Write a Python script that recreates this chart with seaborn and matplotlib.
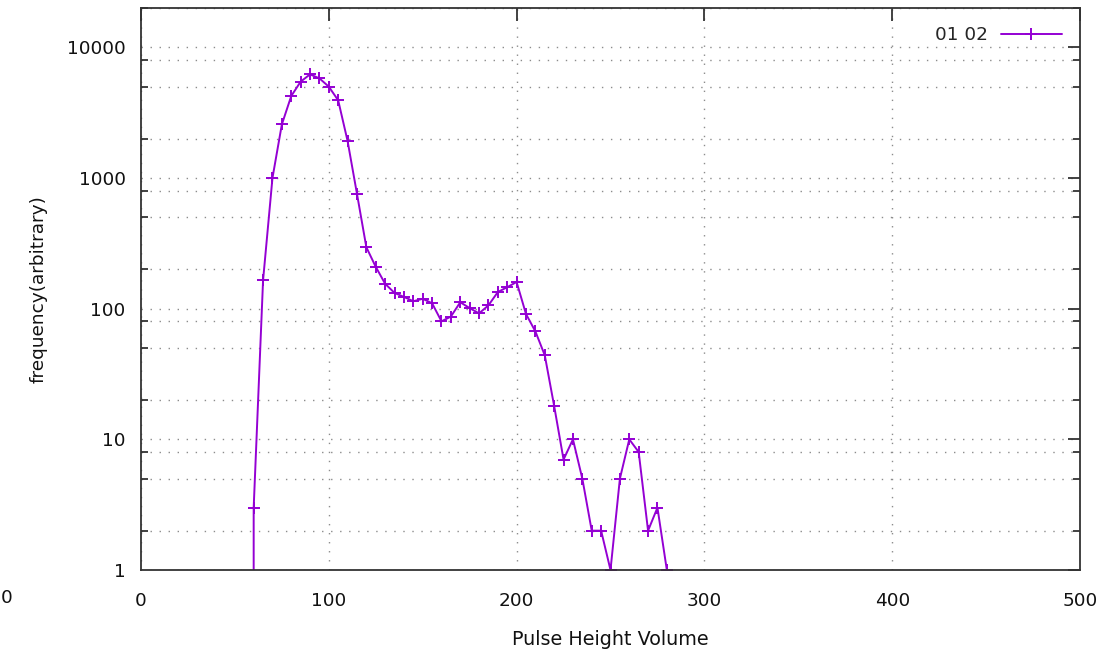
import matplotlib
matplotlib.use("Agg")
import matplotlib.pyplot as plt
import matplotlib.ticker as mticker
import pandas as pd
import seaborn as sns

# Pulse height spectrum (counts per 5-unit bin)
pulse_height = [55, 60, 65, 70, 75, 80, 85, 90, 95, 100,
                105, 110, 115, 120, 125, 130, 135, 140, 145, 150,
                155, 160, 165, 170, 175, 180, 185, 190, 195, 200,
                205, 210, 215, 220, 225, 230, 235, 240, 245, 250,
                255, 260, 265, 270, 275, 280]
frequency = [0, 3, 165, 1000, 2570, 4240, 5460, 6210, 5790, 5000,
             3930, 1920, 757, 295, 209, 155, 132, 123, 114, 119,
             110, 80, 87, 112, 101, 92, 106, 134, 146, 160,
             91, 67, 44, 18, 7, 10, 5, 2, 2, 1,
             5, 10, 8, 2, 3, 1]
series_label = "01 02"

x_ticks = [0, 100, 200, 300, 400, 500]
y_ticks = [1, 10, 100, 1000, 10000]

df = pd.DataFrame({"x": pulse_height, "y": frequency})

sns.set_theme(style="white")
plt.rcParams["font.family"] = ["DejaVu Sans"]

W, H, DPI = 1115, 652, 100
fig = plt.figure(figsize=(W / DPI, H / DPI), dpi=DPI)
ax = fig.add_axes([141 / W, 1 - 570 / H, (1080 - 141) / W, (570 - 8) / H])

line_color = "#9400d3"
sns.lineplot(data=df, x="x", y="y", ax=ax, color=line_color, linewidth=1.4,
             marker="+", markersize=8, markeredgewidth=1.4,
             markeredgecolor=line_color, label=series_label, sort=True)

ax.set_yscale("log")
ax.set_xlim(0, 500)
ax.set_ylim(1, 20000)

ax.xaxis.set_major_locator(mticker.FixedLocator(x_ticks))
ax.xaxis.set_major_formatter(mticker.FixedFormatter([str(v) for v in x_ticks]))
ax.yaxis.set_major_locator(mticker.FixedLocator(y_ticks))
ax.yaxis.set_major_formatter(mticker.FixedFormatter([str(v) for v in y_ticks]))
ax.yaxis.set_minor_locator(mticker.LogLocator(base=10, subs=(2, 5, 8)))
ax.yaxis.set_minor_formatter(mticker.NullFormatter())
ax.xaxis.set_minor_locator(mticker.NullLocator())

tick_fs = 13.3
ax.tick_params(axis="both", which="major", direction="in", length=9, width=1.3,
               color="#333333", labelsize=tick_fs, labelcolor="#111111",
               top=True, right=True)
ax.tick_params(axis="x", which="major", pad=16)
ax.tick_params(axis="y", which="major", pad=11)
ax.tick_params(axis="y", which="minor", direction="in", length=5, width=1.3,
               color="#333333", left=True, right=True)

grid_kw = dict(color="#8c8c8c", linewidth=1.0, linestyle=(0, (1, 5.5)))
ax.grid(True, which="major", axis="both", **grid_kw)
ax.grid(True, which="minor", axis="y", **grid_kw)
ax.set_axisbelow(True)

for side in ("left", "right", "top", "bottom"):
    ax.spines[side].set_visible(True)
    ax.spines[side].set_color("#333333")
    ax.spines[side].set_linewidth(1.3)

ax.set_xlabel("Pulse Height Volume", fontsize=13.8, color="#111111", labelpad=14)
ax.set_ylabel("frequency(arbitrary)", fontsize=13.3, color="#111111", labelpad=14)

leg = ax.legend(loc="upper right", frameon=False, markerfirst=False,
                handlelength=3.3, handletextpad=0.7, fontsize=tick_fs,
                borderaxespad=0.6)

# Left-most tick label at the figure edge
fig.text(0.5 / W, 1 - 598 / H, "0", ha="left", va="center",
         fontsize=tick_fs, color="#111111")

fig.savefig("out.png", dpi=DPI, facecolor="white")
